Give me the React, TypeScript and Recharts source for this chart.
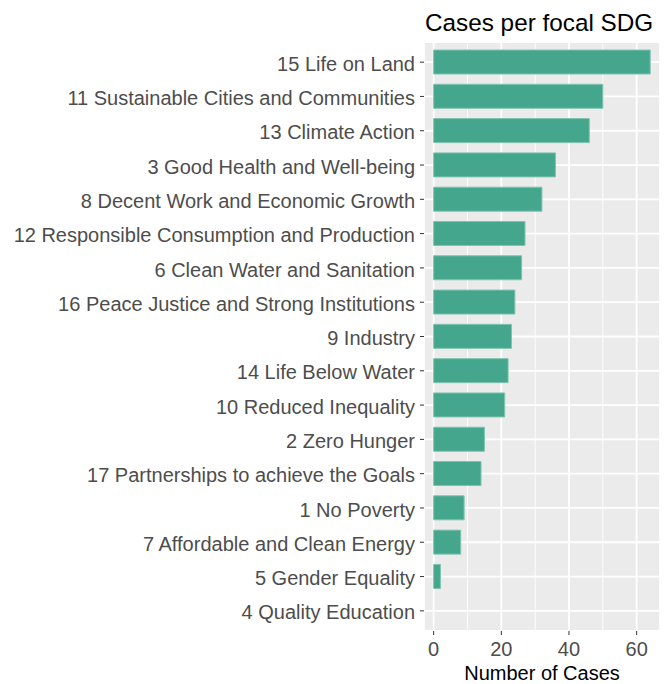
import React from 'react';
import { BarChart, Bar, XAxis, YAxis, CartesianGrid, Label } from 'recharts';

// SDG names, top to bottom as they appear
const sdgNames = [
  '15 Life on Land',
  '11 Sustainable Cities and Communities',
  '13 Climate Action',
  '3 Good Health and Well-being',
  '8 Decent Work and Economic Growth',
  '12 Responsible Consumption and Production',
  '6 Clean Water and Sanitation',
  '16 Peace Justice and Strong Institutions',
  '9 Industry',
  '14 Life Below Water',
  '10 Reduced Inequality',
  '2 Zero Hunger',
  '17 Partnerships to achieve the Goals',
  '1 No Poverty',
  '7 Affordable and Clean Energy',
  '5 Gender Equality',
  '4 Quality Education',
];

const caseCounts = [64, 50, 46, 36, 32, 27, 26, 24, 23, 22, 21, 15, 14, 9, 8, 2, 0];

const xTicks = [0, 20, 40, 60];
const xMinorTicks = [10, 30, 50];

const FONT = '"Liberation Sans", Arial, sans-serif';

const data = sdgNames.map((name, i) => ({ name, cases: caseCounts[i] }));

const App: React.FC = () => {
  return (
    <div style={{ position: 'absolute', left: 0, top: 0, width: 668, height: 684, background: '#fff', fontFamily: FONT }}>
      <svg width={668} height={40} style={{ position: 'absolute', left: 0, top: 0 }}>
        <text x={425} y={31} fontSize={24.3} fill="#000" fontFamily={FONT}>
          Cases per focal SDG
        </text>
      </svg>
      <div style={{ position: 'absolute', left: 0, top: 0 }}>
        <BarChart
          width={668}
          height={684}
          data={data}
          layout="vertical"
          margin={{ top: 42, right: 8, bottom: 0, left: 0 }}
          barSize={24}
        >
          {/* minor grid + panel background */}
          <CartesianGrid
            fill="#EBEBEB"
            stroke="#FFFFFF"
            strokeWidth={0.9}
            horizontal={false}
            verticalValues={xMinorTicks}
          />
          {/* major grid */}
          <CartesianGrid stroke="#FFFFFF" strokeWidth={1.8} fill="none" />
          <XAxis
            type="number"
            domain={[-2.85, 66.9]}
            allowDataOverflow
            ticks={xTicks}
            height={53}
            axisLine={false}
            tickLine={{ stroke: '#333333' }}
            tickSize={4}
            tickMargin={7}
            tick={{ fill: '#4D4D4D', fontSize: 20, fontFamily: FONT }}
          >
            <Label
              value="Number of Cases"
              position="insideBottom"
              offset={4}
              style={{ fill: '#000', fontSize: 20, fontFamily: FONT }}
            />
          </XAxis>
          <YAxis
            type="category"
            dataKey="name"
            width={424}
            axisLine={false}
            tickLine={{ stroke: '#333333' }}
            tickSize={4}
            tickMargin={5}
            padding={{ top: 3, bottom: 3 }}
            interval={0}
            tick={{ fill: '#4D4D4D', fontSize: 20, fontFamily: FONT, dy: 1.5 }}
          />
          <Bar dataKey="cases" fill="#44A68C" stroke="#7FC3B0" strokeWidth={1} isAnimationActive={false} />
        </BarChart>
      </div>
    </div>
  );
};

export default App;
